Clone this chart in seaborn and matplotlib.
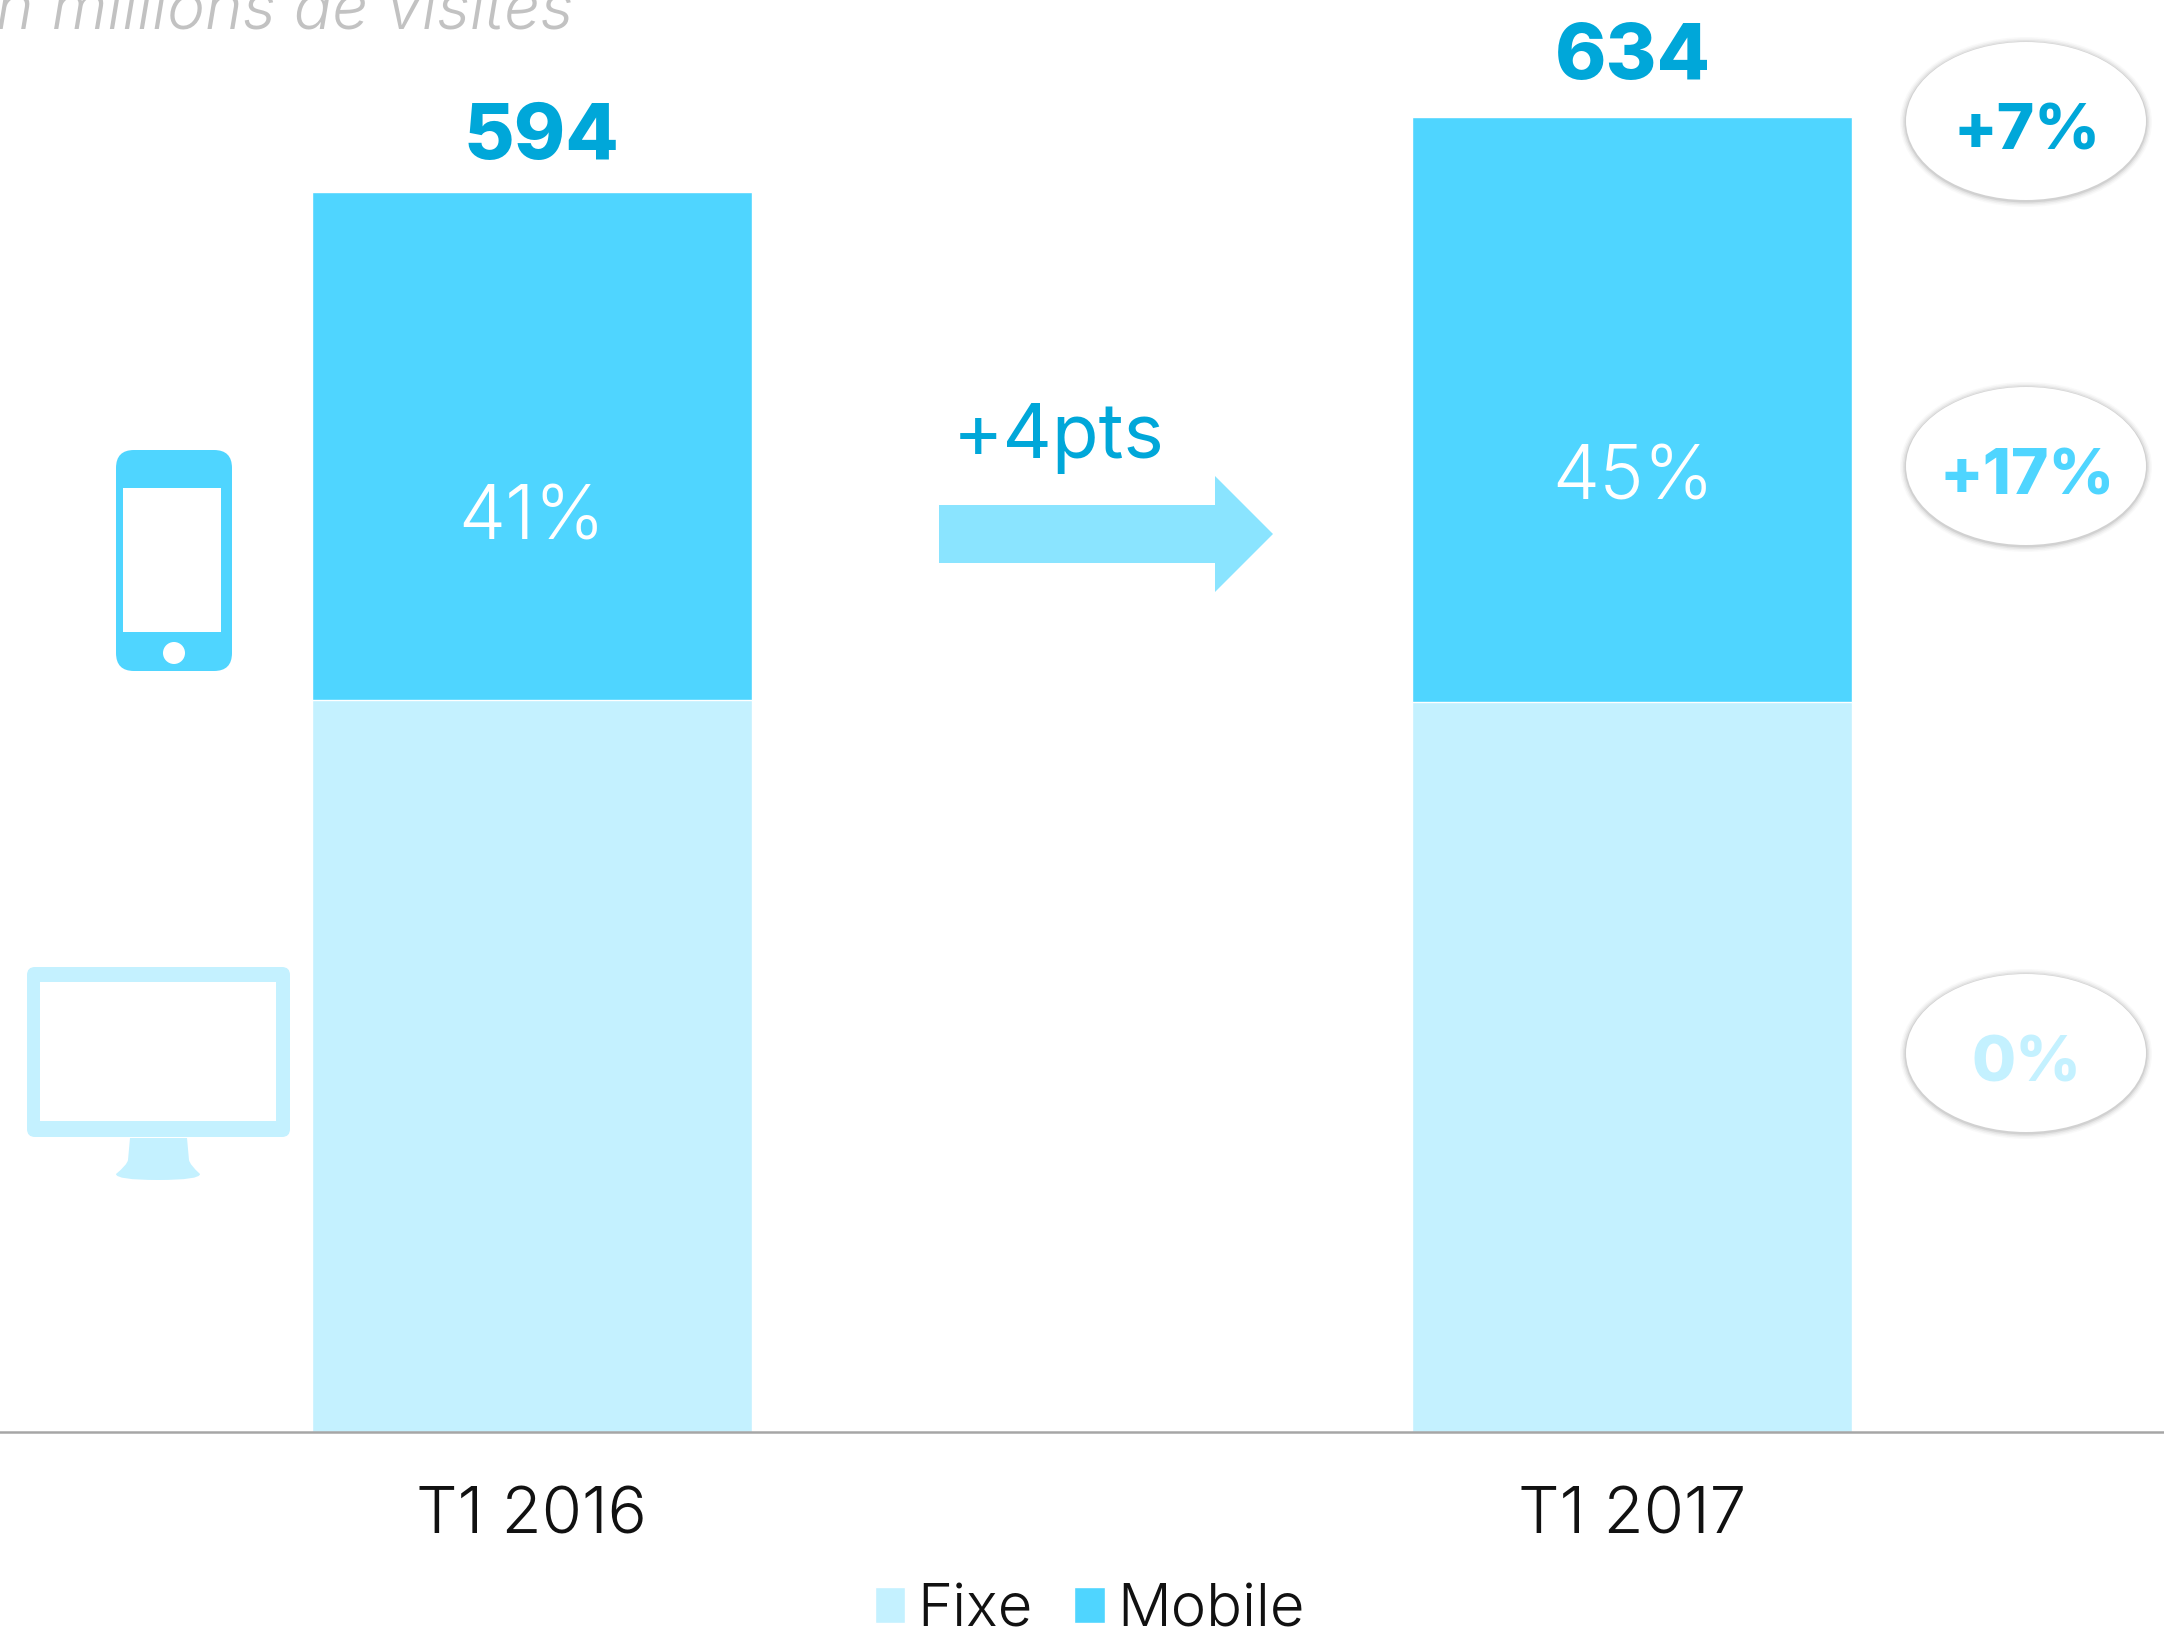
import numpy as np
import pandas as pd
import matplotlib
matplotlib.use("Agg")
import matplotlib.pyplot as plt
from matplotlib.patches import Ellipse, FancyBboxPatch, Polygon, Rectangle, PathPatch
from matplotlib.path import Path
import seaborn as sns

# valeurs
periods = ["T1 2016", "T1 2017"]
fixe = [352, 351]
mobile = [244, 281]
totals = ["594", "634"]
shares = ["41%", "45%"]
evolutions = ["+7%", "+17%", "0%"]
series_names = ["Fixe", "Mobile"]

C_MOBILE = "#4fd5ff"
C_FIXE = "#c4f1ff"
C_DARK = "#00a7d9"
C_ARROW = "#8ae4ff"

sns.set_theme(style="white")
plt.rcParams["font.family"] = ["Inter", "DejaVu Sans"]

df = pd.DataFrame({"period": periods, "fixe": fixe, "mobile": mobile})
df["total"] = df["fixe"] + df["mobile"]

fig = plt.figure(figsize=(21.64, 16.32), dpi=100)
ax = fig.add_axes([0, 0, 1, 1])

# empilement : le total derriere, le fixe par dessus
sns.barplot(data=df, x="period", y="total", color=C_MOBILE, saturation=1, width=0.4, ax=ax, label=series_names[1])
sns.barplot(data=df, x="period", y="fixe", color=C_FIXE, saturation=1, width=0.4, ax=ax, label=series_names[0])

ax.set_xlim(-531.7 / 1100, (2164 - 531.7) / 1100)
ax.set_ylim(-200 / 2.08, 1432 / 2.08)
ax.set_xlabel("")
ax.set_ylabel("")
ax.set_yticks([])
ax.patch.set_alpha(0)
for s in ["top", "left", "right"]:
    ax.spines[s].set_visible(False)
ax.spines["bottom"].set_position(("data", 0))
ax.spines["bottom"].set_color("#a6a6a6")
ax.spines["bottom"].set_linewidth(1.8)
ax.tick_params(axis="x", length=0, pad=39, labelsize=47, labelcolor="#111111")
for t in ax.get_xticklabels():
    t.set_fontweight(300)

handles, labels = ax.get_legend_handles_labels()
order = [labels.index(n) for n in series_names]
leg = ax.legend(
    [handles[i] for i in order], [labels[i] for i in order],
    loc="center", bbox_to_anchor=(0.5035, 1 - 1611 / 1632),
    ncol=2, frameon=False, fontsize=43, handlelength=0.51, handleheight=0.55,
    handletextpad=0.2, columnspacing=0.7, borderpad=0,
)
for t in leg.get_texts():
    t.set_fontweight(300)
    t.set_color("#111111")

# calque en pixels pour les pictos et les annotations
ov = fig.add_axes([0, 0, 1, 1], zorder=5)
ov.set_xlim(0, 2164)
ov.set_ylim(1632, 0)
ov.axis("off")
ov.patch.set_alpha(0)

ov.text(573, 30, "En millions de visites", ha="right", va="baseline", fontsize=46,
        style="italic", fontweight=300, color="#c2c2c2")

for cx, cy, lab in zip([541, 1633], [138, 58], totals):
    ov.text(cx, cy, lab, ha="center", va="center", fontsize=56, fontweight=800, color=C_DARK)
for cx, cy, lab in zip([532, 1633], [520, 480], shares):
    ov.text(cx, cy, lab, ha="center", va="center", fontsize=54, fontweight=300, color="white")

# fleche +4pts
ov.add_patch(Polygon([(939, 505), (1215, 505), (1215, 476), (1273, 534), (1215, 592), (1215, 563), (939, 563)],
                     closed=True, fc=C_ARROW, ec="none"))
ov.text(1059, 439, "+4pts", ha="center", va="center", fontsize=55, color=C_DARK)

# bulles d'evolution avec ombre
for cy, lab, col in zip([121, 466, 1053], evolutions, [C_DARK, C_MOBILE, C_FIXE]):
    for grow, a in zip([6, 4.5, 3, 1.5], [0.03, 0.05, 0.08, 0.12]):
        ov.add_patch(Ellipse((2026, cy + 1), 240 + 2 * grow, 158 + 2 * grow, fc="#555555", ec="none", alpha=a))
    ov.add_patch(Ellipse((2026, cy), 240, 158, fc="white", ec="none"))
    ov.text(2027, cy + 12, lab, ha="center", va="center", fontsize=46, fontweight=800, color=col)

# picto mobile
ov.add_patch(FancyBboxPatch((130, 464), 88, 193, boxstyle="round,pad=14,rounding_size=18", fc=C_MOBILE, ec="none"))
ov.add_patch(Rectangle((123, 488), 98, 144, fc="white", ec="none"))
ov.add_patch(Ellipse((174, 653), 22, 22, fc="white", ec="none"))

# picto ecran
ov.add_patch(FancyBboxPatch((35, 975), 247, 154, boxstyle="round,pad=8,rounding_size=8", fc=C_FIXE, ec="none"))
ov.add_patch(Rectangle((40, 982), 236, 139, fc="white", ec="none"))
stand = Path(
    [(130, 1138), (187, 1138), (189, 1160), (190, 1165), (200, 1174), (200, 1180), (158, 1180), (116, 1180),
     (116, 1174), (127, 1165), (128, 1160), (130, 1138)],
    [Path.MOVETO, Path.LINETO, Path.LINETO, Path.CURVE3, Path.CURVE3, Path.CURVE3, Path.LINETO, Path.CURVE3,
     Path.CURVE3, Path.CURVE3, Path.LINETO, Path.CLOSEPOLY],
)
ov.add_patch(PathPatch(stand, fc=C_FIXE, ec="none"))

fig.savefig("out.png", dpi=100, facecolor="white")
